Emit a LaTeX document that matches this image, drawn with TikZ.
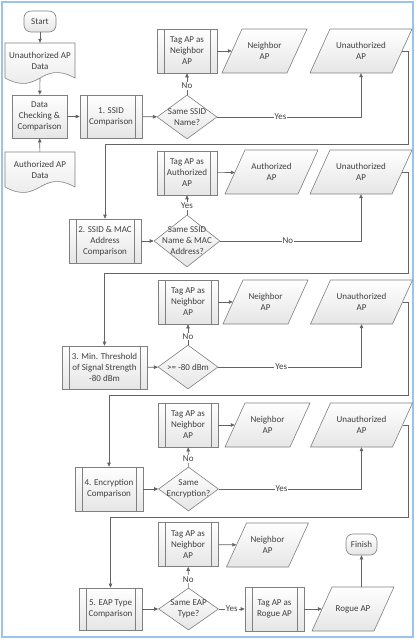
\documentclass[tikz,border=0pt]{standalone}
\usepackage{fontspec}
\setmainfont{Carlito}
\usetikzlibrary{shapes.geometric,arrows.meta,calc}
\definecolor{frameblue}{RGB}{157,195,230}
\definecolor{shapeline}{RGB}{128,128,128}
\definecolor{txt}{RGB}{64,64,64}
\definecolor{conn}{RGB}{100,100,100}
\tikzset{
  shapefill/.style={draw=shapeline, line width=0.6pt, top color=white, bottom color=black!10},
  base/.style={shapefill, text=txt, align=center, font=\fontsize{9}{11}\selectfont, inner sep=1pt},
  procbox/.style={base, rectangle, minimum width=#1, minimum height=44pt},
  predef/.style={base, rectangle, minimum width=#1, minimum height=44pt,
    path picture={\draw[shapeline, line width=0.6pt]
      ([xshift=7pt]path picture bounding box.north west) -- ([xshift=7pt]path picture bounding box.south west)
      ([xshift=-7pt]path picture bounding box.north east) -- ([xshift=-7pt]path picture bounding box.south east);}},
  term/.style={base, rectangle, rounded corners=7pt, minimum width=#1, minimum height=21pt},
  decision/.style={base, diamond, inner sep=0pt},
  plain/.style={text=txt, align=center, font=\fontsize{9}{11}\selectfont, inner sep=0pt},
  anchorbox/.style={plain, rectangle, draw=none},
  lbl/.style={fill=white, text=txt, font=\fontsize{9}{11}\selectfont, inner sep=1pt},
  conn/.style={draw=conn, line width=0.6pt, -{Triangle[length=4pt,width=3.5pt]}},
}
% parallelogram: name, x, y, total width, text
\newcommand\paranode[5]{%
  \path[shapefill] ({#2-#4/2+20},{#3-22}) -- ({#2+#4/2},{#3-22})
     -- ({#2+#4/2-20},{#3+22}) -- ({#2-#4/2},{#3+22}) -- cycle;
  \node[anchorbox, minimum width={#4-20}, minimum height=44pt] (#1) at (#2,#3) {#5};}
% document shape: name, x, y, text
\newcommand\docnode[4]{%
  \path[shapefill] ({#2-35},{#3-17.5}) -- ({#2+35},{#3-17.5}) -- ({#2+35},{#3+17.5})
     .. controls ({#2},{#3-1.5}) and ({#2},{#3+36.5}) .. ({#2-35},{#3+17.5}) -- cycle;
  \node[anchorbox, minimum width=70pt, minimum height=35pt] (#1) at (#2,#3) {#4};}
\begin{document}
\begin{tikzpicture}[x=1pt, y=-1pt]
\useasboundingbox (0,0) rectangle (418,644);
\fill[white] (0,0) rectangle (418,644);
\draw[frameblue, line width=1.5pt] (2,2) rectangle (413,637);

% left column
\node[term=32pt] (start) at (40,21.5) {Start};
\docnode{ud}{40}{60.5}{Unauthorized AP\\Data}
\node[procbox=55pt, minimum height=43pt] (dc) at (39.5,116.5) {Data\\Checking \&\\Comparison};
\docnode{ad}{40}{169.5}{Authorized AP\\Data}

% row 1
\node[predef=62pt, minimum height=43pt] (c1) at (111,116.5) {1. SSID\\Comparison};
\node[decision, minimum width=60pt, minimum height=44pt] (d1) at (187,117) {};
\node[plain] (d1t) at (d1) {Same SSID\\Name?};
\node[predef=60pt] (t1) at (187,51) {Tag AP as\\Neighbor\\AP};
\paranode{n1}{264.5}{51}{85}{Neighbor\\AP}
\paranode{u1}{361}{51}{102}{Unauthorized\\AP}
\coordinate (L1) at (408,144);

% row 2
\node[predef=72pt] (c2) at (105,241) {2. SSID \& MAC\\Address\\Comparison};
\node[decision, minimum width=66pt, minimum height=52pt] (d2) at (187,241) {};
\node[plain] (d2t) at (d2) {Same SSID\\Name \& MAC\\Address?};
\node[predef=60pt] (t2) at (187,173) {Tag AP as\\Authorized\\AP};
\paranode{n2}{271.5}{172}{93}{Authorized\\AP}
\paranode{u2}{361}{172}{102}{Unauthorized\\AP}
\coordinate (L2) at (408,273);

% row 3
\node[predef=85pt, minimum height=43pt] (c3) at (104.5,367.5) {3. Min. Threshold\\of Signal Strength\\-80 dBm};
\node[decision, minimum width=60pt, minimum height=44pt] (d3) at (188,367) {};
\node[plain] (d3t) at (d3) {>= -80 dBm};
\node[predef=60pt] (t3) at (188,302) {Tag AP as\\Neighbor\\AP};
\paranode{n3}{265.5}{302}{85}{Neighbor\\AP}
\paranode{u3}{361.5}{302}{102}{Unauthorized\\AP}
\coordinate (L3) at (408,395);

% row 4
\node[predef=68pt] (c4) at (109,489) {4. Encryption\\Comparison};
\node[decision, minimum width=60pt, minimum height=44pt] (d4) at (188.5,489) {};
\node[plain] (d4t) at (d4) {Same\\Encryption?};
\node[predef=60pt] (t4) at (188,425) {Tag AP as\\Neighbor\\AP};
\paranode{n4}{267.5}{425}{85}{Neighbor\\AP}
\paranode{u4}{361.5}{425}{102}{Unauthorized\\AP}
\coordinate (L4) at (408,517);

% row 5
\node[predef=63pt, minimum height=42pt] (c5) at (110.5,609) {5. EAP Type\\Comparison};
\node[decision, minimum width=60pt, minimum height=42pt] (d5) at (188.5,609) {};
\node[plain] (d5t) at (d5) {Same EAP\\Type?};
\node[predef=60pt] (t5) at (188,544.5) {Tag AP as\\Neighbor\\AP};
\paranode{n5}{267.5}{545}{82}{Neighbor\\AP}
\node[predef=59pt] (tr) at (274.5,609) {Tag AP as\\Rogue AP};
\paranode{ra}{353}{609}{82}{Rogue AP}
\node[term=31pt] (fin) at (361.5,544.5) {Finish};

% connectors
\draw[conn] (start) -- (ud);
\draw[conn] (ud.south) -- (dc);
\draw[conn] (ad) -- (dc);
\draw[conn] (dc) -- (c1);
\draw[conn] (c1) -- (d1);
\draw[conn] (d1) -- node[lbl, pos=0.4]{No} (t1);
\draw[conn] (t1) -- (n1);
\draw[conn] (d1) -- node[lbl, pos=0.44]{Yes} (d1 -| u1) -- (u1);
\draw[conn] (u1.east) -| (L1) -| (c2);

\draw[conn] (c2) -- (d2);
\draw[conn] (d2) -- node[lbl, pos=0.45]{Yes} (t2);
\draw[conn] (t2) -- (n2);
\draw[conn] (d2) -- node[lbl, pos=0.48]{No} (d2 -| u2) -- (u2);
\draw[conn] (u2.east) -| (L2) -| (c3);

\draw[conn] (c3) -- (d3);
\draw[conn] (d3) -- node[lbl, pos=0.4]{No} (t3);
\draw[conn] (t3) -- (n3);
\draw[conn] (d3) -- node[lbl, pos=0.44]{Yes} (d3 -| u3) -- (u3);
\draw[conn] (u3.east) -| (L3) -| (c4);

\draw[conn] (c4) -- (d4);
\draw[conn] (d4) -- node[lbl, pos=0.4]{No} (t4);
\draw[conn] (t4) -- (n4);
\draw[conn] (d4) -- node[lbl, pos=0.44]{Yes} (d4 -| u4) -- (u4);
\draw[conn] (u4.east) -| (L4) -| (c5);

\draw[conn] (c5) -- (d5);
\draw[conn] (d5) -- node[lbl, pos=0.4]{No} (t5);
\draw[conn] (t5) -- (n5);
\draw[conn] (d5) -- node[lbl]{Yes} (tr);
\draw[conn] (tr) -- (ra);
\draw[conn] (fin.south |- ra.north) -- (fin);
\end{tikzpicture}
\end{document}
